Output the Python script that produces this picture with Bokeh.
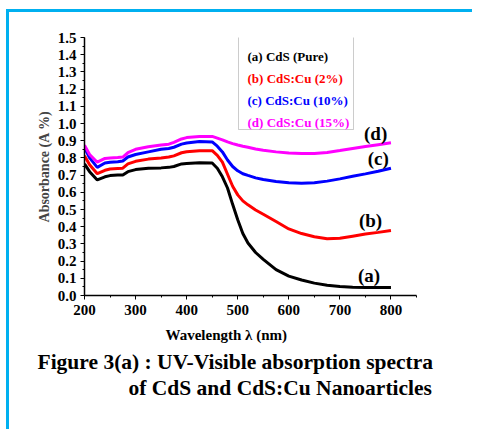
from bokeh.plotting import figure
from bokeh.models import Label, BoxAnnotation, SingleIntervalTicker, Range1d, Title, CustomJSTickFormatter
from bokeh.embed import file_html
from bokeh.resources import INLINE

wavelength = [200, 210, 225, 240, 250, 265, 275, 285, 300, 325, 350, 365, 375, 390, 400, 425,
              450, 460, 470, 480, 490, 500, 510, 520, 535, 550, 575, 600, 625, 650, 675, 700,
              725, 750, 775, 800]
cds_pure = [0.765, 0.72, 0.672, 0.69, 0.697, 0.70, 0.70, 0.72, 0.732, 0.74, 0.742, 0.745, 0.75,
            0.765, 0.768, 0.772, 0.77, 0.74, 0.69, 0.625, 0.53, 0.44, 0.36, 0.305, 0.25, 0.21,
            0.15, 0.113, 0.09, 0.072, 0.06, 0.052, 0.048, 0.047, 0.047, 0.047]
cds_cu2 = [0.812, 0.76, 0.708, 0.728, 0.735, 0.738, 0.74, 0.765, 0.78, 0.793, 0.80, 0.805, 0.812,
           0.83, 0.836, 0.842, 0.842, 0.815, 0.775, 0.705, 0.635, 0.585, 0.55, 0.527, 0.497, 0.472,
           0.43, 0.387, 0.36, 0.342, 0.33, 0.333, 0.345, 0.357, 0.367, 0.378]
cds_cu10 = [0.86, 0.80, 0.745, 0.77, 0.775, 0.778, 0.782, 0.805, 0.82, 0.835, 0.85, 0.855, 0.862,
            0.88, 0.887, 0.895, 0.893, 0.868, 0.835, 0.788, 0.75, 0.725, 0.708, 0.698, 0.684, 0.674,
            0.663, 0.656, 0.652, 0.655, 0.665, 0.678, 0.693, 0.707, 0.722, 0.74]
cds_cu15 = [0.873, 0.82, 0.775, 0.797, 0.80, 0.802, 0.805, 0.83, 0.85, 0.865, 0.875, 0.88, 0.89,
            0.91, 0.918, 0.925, 0.925, 0.915, 0.905, 0.893, 0.883, 0.875, 0.868, 0.862, 0.852, 0.845,
            0.835, 0.828, 0.825, 0.826, 0.832, 0.843, 0.855, 0.866, 0.877, 0.888]

series = [cds_pure, cds_cu2, cds_cu10, cds_cu15]
colors = ["#000000", "#ff0000", "#0000ff", "#ff00ff"]
legend_texts = ["(a) CdS (Pure)", "(b) CdS:Cu (2%)", "(c) CdS:Cu (10%)", "(d) CdS:Cu (15%)"]
curve_tags = ["(a)", "(b)", "(c)", "(d)"]
x_title = "Wavelength λ (nm)"
y_title = "Absorbance (A %)"
caption = ["Figure 3(a) : UV-Visible absorption spectra", "of CdS and CdS:Cu Nanoarticles"]

FONT = "Liberation Serif"

p = figure(width=466, height=420, output_backend="svg", toolbar_location=None,
           x_range=Range1d(200, 850), y_range=Range1d(0, 1.5),
           min_border_left=75, min_border_top=25, min_border_right=59, min_border_bottom=137)
p.styles = {"border-top": "3px solid #00b0f0", "border-left": "3px solid #00b0f0",
            "margin-top": "9px", "margin-left": "6px"}
p.outline_line_color = None
p.grid.visible = False
p.background_fill_color = "white"
p.border_fill_color = "white"

for ys, c in zip(series, colors):
    p.line(wavelength, ys, line_color=c, line_width=3)

p.xaxis.ticker = SingleIntervalTicker(interval=100, num_minor_ticks=2)
p.yaxis.ticker = SingleIntervalTicker(interval=0.1, num_minor_ticks=2)
for ax in (p.xaxis[0], p.yaxis[0]):
    ax.axis_line_width = 1.5
    ax.axis_line_color = "black"
    ax.major_tick_line_color = "black"
    ax.minor_tick_line_color = "black"
    ax.major_tick_out = 4
    ax.major_tick_in = 0
    ax.minor_tick_out = 2
    ax.minor_tick_in = 0
    ax.major_label_text_font = FONT
    ax.major_label_text_font_style = "bold"
    ax.major_label_text_font_size = "15px"
    ax.major_label_text_color = "black"
p.yaxis.formatter = CustomJSTickFormatter(code="return tick.toFixed(1);")
p.xaxis.major_label_standoff = 5
p.yaxis.major_label_standoff = 4

p.yaxis.axis_label = y_title
p.yaxis.axis_label_text_font = FONT
p.yaxis.axis_label_text_font_style = "bold"
p.yaxis.axis_label_text_font_size = "14px"
p.yaxis.axis_label_standoff = 3

def title_below(text, size, offset, standoff):
    p.add_layout(Title(text=text, align="left", offset=offset, standoff=standoff,
                       text_font=FONT, text_font_style="bold", text_font_size=size,
                       text_color="black"), "below")

title_below(x_title, "15px", 81, 14)
title_below(caption[0], "21.5px", -47, -3)
title_below(caption[1], "21.5px", 44, 2)

# legend box
p.add_layout(BoxAnnotation(left=154, right=269, top=259, bottom=166,
                           left_units="screen", right_units="screen",
                           top_units="screen", bottom_units="screen",
                           fill_color=None, line_color="#555555", line_width=1))

def lbl(text, x, y, size, color="black", xu="screen", yu="screen", align="left"):
    p.add_layout(Label(x=x, y=y, x_units=xu, y_units=yu, text=text, text_font=FONT,
                       text_font_style="bold", text_font_size=size, text_color=color,
                       text_align=align, text_baseline="middle"))

for i, (t, c) in enumerate(zip(legend_texts, colors)):
    lbl(t, 163, 239 - i * 21.9, "13px", color=c)

tag_pos = [(757, 0.116), (760, 0.436), (775, 0.795), (770, 0.94)]
for t, (x, y) in zip(curve_tags, tag_pos):
    lbl(t, x, y, "19px", xu="data", yu="data", align="center")

open("out.html", "w").write(file_html(p, INLINE))
